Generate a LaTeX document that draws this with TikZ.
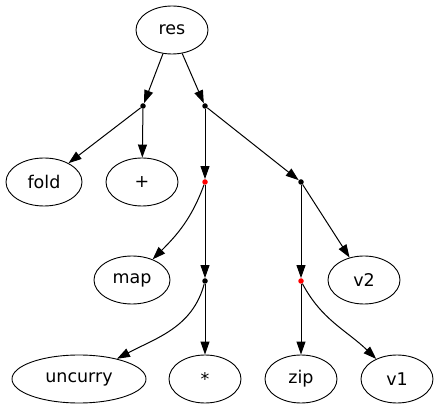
\documentclass[tikz,border=0pt]{standalone}
\usepackage{fontspec}
\setmainfont{DejaVu Sans}
\usetikzlibrary{shapes.geometric,arrows.meta}
\begin{document}
\begin{tikzpicture}[x=1pt,y=-1pt,
  lbl/.style={draw,ellipse,line width=0.9pt,inner sep=0pt,minimum width=72pt,minimum height=48pt,font=\fontsize{17.5}{20}\selectfont},
  bdot/.style={circle,fill=black,inner sep=0pt,minimum size=5.5pt},
  rdot/.style={circle,fill=red,inner sep=0pt,minimum size=5.5pt},
  edge/.style={line width=1pt,-{Triangle[length=13pt,width=9pt]}}]
\useasboundingbox (0,0) rectangle (439,411);
\node[lbl] (res) at (172,30) {res};
\node[bdot] (d1) at (143,106) {};
\node[bdot] (d2) at (205,106) {};
\node[lbl,minimum width=76pt] (fold) at (44,182) {fold};
\node[lbl] (plus) at (142,182) {+};
\node[rdot] (r1) at (205,182) {};
\node[bdot] (d3) at (301,182) {};
\node[lbl,minimum width=76pt] (map) at (132,280) {map};
\node[bdot] (d4) at (205,281) {};
\node[rdot] (r2) at (301,281) {};
\node[lbl] (v2) at (364,280) {v2};
\node[lbl,minimum width=134pt] (uncurry) at (79,379) {uncurry};
\node[lbl] (star) at (205,379) {*};
\node[lbl] (zip) at (301,379) {zip};
\node[lbl] (v1) at (397,379) {v1};
\draw[edge] (res) -- (d1);
\draw[edge] (res) -- (d2);
\draw[edge] (d1) -- (fold);
\draw[edge] (d1) -- (plus);
\draw[edge] (d2) -- (r1);
\draw[edge] (d2) -- (d3);
\draw[edge] (r1) to[out=-110,in=45] (map);
\draw[edge] (r1) -- (d4);
\draw[edge] (d3) -- (r2);
\draw[edge] (d3) -- (v2);
\draw[edge] (d4) to[out=-105,in=28] (uncurry);
\draw[edge] (d4) -- (star);
\draw[edge] (r2) -- (zip);
\draw[edge] (r2) to[out=-62,in=136] (v1);
\end{tikzpicture}
\end{document}
